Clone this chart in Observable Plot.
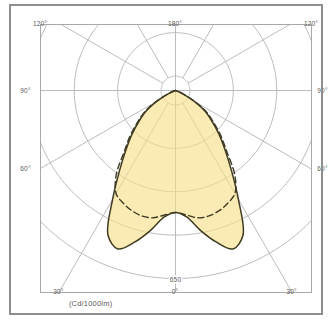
<!DOCTYPE html>
<html>
<head>
<meta charset="utf-8">
<script src="https://cdn.jsdelivr.net/npm/d3@7"></script>
<script src="https://cdn.jsdelivr.net/npm/@observablehq/plot@0.6"></script>
<style>
  html, body { margin: 0; padding: 0; background: #fff; }
  #wrap { position: relative; width: 330px; height: 320px; }
  #border { position: absolute; left: 9px; top: 4px; width: 310px; height: 307px; border: 2px solid #8e8e8e; pointer-events: none; }
  #chart svg { display: block; }
  #chart text { letter-spacing: 0.2px; }
</style>
</head>
<body>
<div id="wrap"><div id="chart"></div><div id="border"></div></div>
<script>
// ---- data (cd/1000lm) ----
const gammaAngles = [0,5,10,15,20,25,30,35,40,45,50,55,60,65,70,75,80,85,90,95,100,105,110,115,120,125,130,135,140,145,150,155,160,165,170,175,180];
const planeC0  = [422,439,490,542,583,552,435,337,266,212,164,124,74,28,8,0,0,0,0,0,0,0,0,0,0,0,0,0,0,0,0,0,0,0,0,0,0];
const planeC90 = [422,432,447,449,442,429,411,358,276,222,172,132,80,32,10,0,0,0,0,0,0,0,0,0,0,0,0,0,0,0,0,0,0,0,0,0,0];
const ringValues = [50, 200, 350, 500, 650];
const ringLabel = "650";
const spokeAngles = [30, 60, 120, 150];
const unitLabel = "(Cd/1000lm)";
const topLabels = ["120°", "180°", "120°"];
const sideLabels = [{a: 90, t: "90°"}, {a: 60, t: "60°"}];
const bottomLabels = [{a: 30, t: "30°"}, {a: 0, t: "0°"}];

// ---- layout ----
const k = 188 / 650;           // px per cd
const cx = 175, cy = 90;       // pole position in px
const fl = 40, fr = 311, ft = 24, fb = 292;
const W = 330, H = 320;
const xDom = [(fl - cx) / k, (fr - cx) / k];
const yDom = [(cy - fb) / k, (cy - ft) / k];

const rad = d => d * Math.PI / 180;
const pt = (I, g, s) => ({x: s * I * Math.sin(rad(g)), y: -I * Math.cos(rad(g))});

function closedCurve(vals) {
  const pts = [];
  for (let i = gammaAngles.length - 1; i >= 0; i--) pts.push(pt(vals[i], gammaAngles[i], -1));
  for (let i = 1; i < gammaAngles.length; i++) pts.push(pt(vals[i], gammaAngles[i], 1));
  return pts;
}
const solid = closedCurve(planeC0);
const dashed = closedCurve(planeC90);

// rings
const rings = [];
ringValues.forEach(r => { for (let a = 0; a <= 360; a += 2) rings.push({r, ...pt(r, a, 1)}); });

// spokes
const far = 3000;
const spokes = [];
spokeAngles.forEach(a => [-1, 1].forEach(s => {
  const p1 = pt(ringValues[0], a, s), p2 = pt(far, a, s);
  spokes.push({x1: p1.x, y1: p1.y, x2: p2.x, y2: p2.y});
}));
spokes.push({x1: 0, y1: -far, x2: 0, y2: far});
spokes.push({x1: -far, y1: 0, x2: far, y2: 0});

// label positions from ray/frame intersections
const edgeLeft = g => { const I = -xDom[0] / Math.sin(rad(g)); return pt(I, g, -1); };
const edgeRight = g => { const I = xDom[1] / Math.sin(rad(g)); return pt(I, g, 1); };
const edgeBottom = (g, s) => { const I = -yDom[0] / Math.cos(rad(g)); return pt(I, g, s); };

const font = {fontFamily: "Liberation Sans, Arial, sans-serif", fontSize: 6.5, fill: "#5a5a5a"};

const labelsTop = [
  {x: xDom[0], y: yDom[1], t: topLabels[0], dx: 5},
  {x: 0, y: yDom[1], t: topLabels[1], dx: -2},
  {x: xDom[1], y: yDom[1], t: topLabels[2], dx: -4}
];
const labelsLeft = sideLabels.map(d => ({...edgeLeft(d.a), t: d.t}));
const labelsRight = sideLabels.map(d => ({...edgeRight(d.a), t: d.t}));
const labelsBottom = [];
bottomLabels.forEach(d => {
  if (d.a === 0) labelsBottom.push({...edgeBottom(0, 1), t: d.t, dx: -2});
  else {
    labelsBottom.push({...edgeBottom(d.a, -1), t: d.t, dx: -6});
    labelsBottom.push({...edgeBottom(d.a, 1), t: d.t, dx: 5});
  }
});
const unitPos = [{...edgeBottom(30, -1), t: unitLabel}];

const gridStroke = "#b4b4b4";

const chart = Plot.plot({
  width: W, height: H,
  marginLeft: fl, marginRight: W - fr, marginTop: ft, marginBottom: H - fb,
  x: {domain: xDom, axis: null},
  y: {domain: yDom, axis: null},
  marks: [
    Plot.line(rings, {x: "x", y: "y", z: "r", stroke: gridStroke, strokeWidth: 0.9, clip: true}),
    Plot.link(spokes, {x1: "x1", y1: "y1", x2: "x2", y2: "y2", stroke: gridStroke, strokeWidth: 0.9, clip: true}),
    Plot.frame({stroke: "#a8a8a8", strokeWidth: 1}),
    Plot.line(solid, {x: "x", y: "y", fill: "#f7df86", fillOpacity: 0.62, stroke: "none", curve: "catmull-rom"}),
    Plot.line(dashed, {x: "x", y: "y", stroke: "#3f3a22", strokeWidth: 1.4, strokeDasharray: "6,3.5", curve: "catmull-rom"}),
    Plot.line(solid, {x: "x", y: "y", stroke: "#3f3a22", strokeWidth: 1.5, curve: "catmull-rom"}),
    Plot.text([{x: 0, y: -ringValues[ringValues.length - 1], t: ringLabel}], {x: "x", y: "y", text: "t", ...font, stroke: "white", strokeWidth: 3, dy: 1}),
    Plot.text(labelsTop, {x: "x", y: "y", text: "t", dx: "dx", dy: -9, ...font}),
    Plot.text(labelsLeft, {x: "x", y: "y", text: "t", dx: -15, ...font}),
    Plot.text(labelsRight, {x: "x", y: "y", text: "t", dx: 11, ...font}),
    Plot.text(labelsBottom, {x: "x", y: "y", text: "t", dx: "dx", dy: 11, ...font}),
    Plot.text(unitPos, {x: "x", y: "y", text: "t", dx: 10, dy: 11, textAnchor: "start", ...font, fontSize: 7.5})
  ]
});
document.getElementById("chart").appendChild(chart);
</script>
</body>
</html>
